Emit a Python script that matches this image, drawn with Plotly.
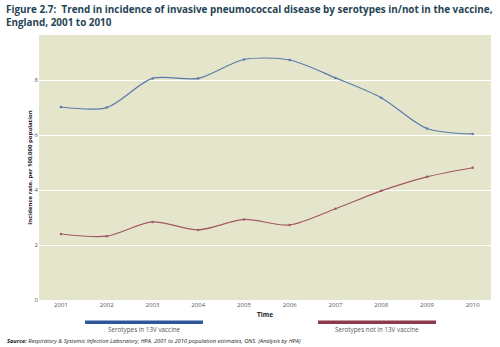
import plotly.graph_objects as go

years = [2001, 2002, 2003, 2004, 2005, 2006, 2007, 2008, 2009, 2010]
in_vaccine = [7.02, 7.0, 8.06, 8.06, 8.75, 8.73, 8.08, 7.36, 6.24, 6.04]
not_in_vaccine = [2.4, 2.32, 2.84, 2.55, 2.93, 2.73, 3.32, 3.97, 4.48, 4.81]
y_ticks = [0, 2, 4, 6, 8]
series_names = ["Serotypes in 13V vaccine", "Serotypes not in 13V vaccine"]

blue_line = "#5a7aab"
red_line = "#a35866"
blue_key = "#2f5797"
red_key = "#8a3a4c"

fig = go.Figure()
fig.add_trace(go.Scatter(x=years, y=in_vaccine, mode="lines+markers", name=series_names[0],
                         line=dict(color=blue_line, width=1.2, shape="spline", smoothing=0.8),
                         marker=dict(size=2.5, color=blue_line)))
fig.add_trace(go.Scatter(x=years, y=not_in_vaccine, mode="lines+markers", name=series_names[1],
                         line=dict(color=red_line, width=1.2, shape="spline", smoothing=0.8),
                         marker=dict(size=2.5, color=red_line)))

fig.update_layout(
    width=500, height=347,
    margin=dict(l=39, r=9, t=35, b=47),
    paper_bgcolor="white",
    plot_bgcolor="#e5e5cb",
    showlegend=False,
    font=dict(family="Open Sans, Liberation Sans, sans-serif", color="#444"),
    xaxis=dict(range=[2000.52, 2010.4], tickvals=years, ticktext=[str(y) for y in years],
               showgrid=False, zeroline=False, ticks="", tickfont=dict(size=6, color="#555"),
               title=dict(text="<b>Time</b>", font=dict(size=6.5, color="#222"), standoff=4)),
    yaxis=dict(range=[0, 9.64], tickvals=y_ticks, showgrid=True, gridcolor="white", gridwidth=1,
               zeroline=False, ticks="", tickfont=dict(size=6, color="#555"),
               title=dict(text="<b>Incidence rate, per 100,000 population</b>",
                          font=dict(size=6, color="#222"), standoff=1)),
)

# Title
fig.add_annotation(xref="paper", yref="paper", x=-(39 - 4) / 452, y=1.0, yshift=35, xanchor="left", yanchor="top",
                   align="left", showarrow=False,
                   text="<b>Figure 2.7:  Trend in incidence of invasive pneumococcal disease by serotypes in/not in the vaccine,<br>England, 2001 to 2010</b>",
                   font=dict(size=9.9, color="#264454", family="Open Sans, Liberation Sans, sans-serif"))

# Legend keys
keys = [(85, 203, blue_key, series_names[0]), (318, 436, red_key, series_names[1])]
for x0, x1, col, label in keys:
    fig.add_shape(type="rect", xref="paper", yref="paper",
                  x0=(x0 - 39) / 452, x1=(x1 - 39) / 452,
                  y0=-(324 - 300) / 265, y1=-(320.5 - 300) / 265,
                  fillcolor=col, line=dict(width=0))
    fig.add_annotation(xref="paper", yref="paper", x=((x0 + x1) / 2 - 39) / 452,
                       y=-(329.5 - 300) / 265, xanchor="center", yanchor="middle", showarrow=False,
                       text=label, font=dict(size=6.3, color="#555"))

# Source
fig.add_annotation(xref="paper", yref="paper", x=-(39 - 5) / 452, y=-(341 - 300) / 265,
                   xanchor="left", yanchor="middle", showarrow=False,
                   text="<b><i>Source:</i></b><i> Respiratory &amp; Systemic Infection Laboratory, HPA. 2001 to 2010 population estimates, ONS. (Analysis by HPA)</i>",
                   font=dict(size=5.7, color="#222"))

fig.write_html("out.html")
